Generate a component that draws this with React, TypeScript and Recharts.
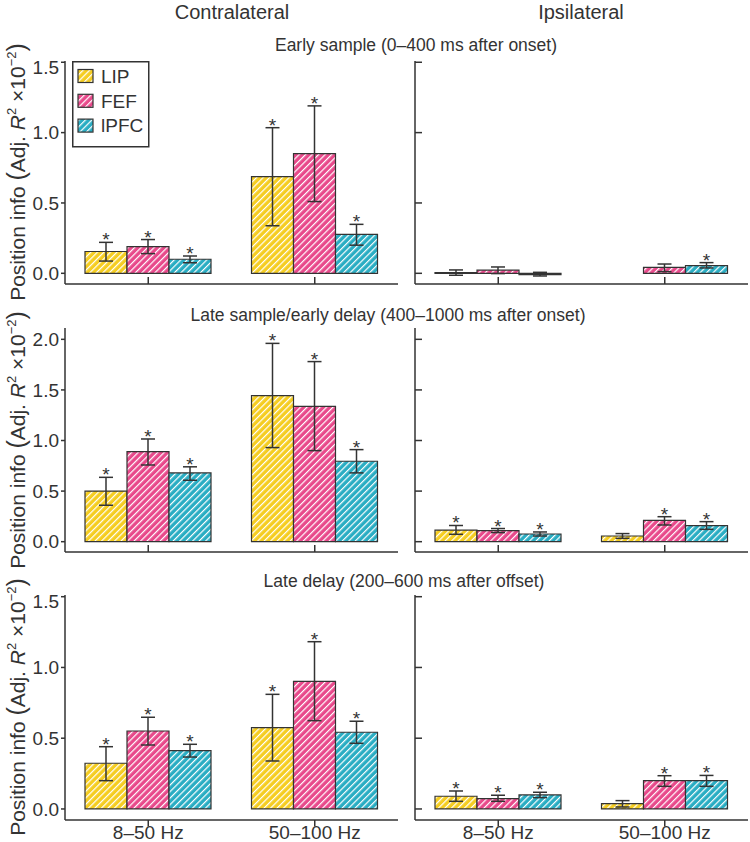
import { BarChart, Bar, XAxis, YAxis, ErrorBar, LabelList, Legend } from "recharts";

const FONT = '"Liberation Sans", Arial, Helvetica, sans-serif';
const INK = "#333";

const categories = ["8–50 Hz", "50–100 Hz"];
const areas = ["LIP", "FEF", "lPFC"];
const areaKeys = ["lip", "fef", "lpfc"];
const areaColors = ["#f5cd21", "#e8498b", "#29adc3"];

// each array: [LIP, FEF, lPFC] x [8–50 Hz, 50–100 Hz]
const earlyContraMean = [[0.155, 0.687], [0.19, 0.85], [0.1, 0.277]];
const earlyContraLow = [[0.087, 0.338], [0.14, 0.51], [0.075, 0.2]];
const earlyContraHigh = [[0.22, 1.035], [0.24, 1.19], [0.123, 0.348]];
const earlyContraStar = [[true, true], [true, true], [true, true]];

const earlyIpsiMean = [[0.005, 0.0], [0.022, 0.042], [-0.01, 0.055]];
const earlyIpsiLow = [[-0.014, -0.02], [-0.002, 0.012], [-0.019, 0.038]];
const earlyIpsiHigh = [[0.024, 0.03], [0.045, 0.066], [0.007, 0.076]];
const earlyIpsiStar = [[false, false], [false, false], [false, true]];

const lateSampleContraMean = [[0.5, 1.443], [0.89, 1.338], [0.68, 0.795]];
const lateSampleContraLow = [[0.36, 0.93], [0.758, 0.9], [0.607, 0.68]];
const lateSampleContraHigh = [[0.636, 1.96], [1.015, 1.78], [0.74, 0.91]];
const lateSampleContraStar = [[true, true], [true, true], [true, true]];

const lateSampleIpsiMean = [[0.115, 0.056], [0.11, 0.21], [0.076, 0.158]];
const lateSampleIpsiLow = [[0.073, 0.033], [0.09, 0.165], [0.056, 0.122]];
const lateSampleIpsiHigh = [[0.16, 0.08], [0.13, 0.247], [0.096, 0.198]];
const lateSampleIpsiStar = [[true, false], [true, true], [true, true]];

const lateDelayContraMean = [[0.323, 0.575], [0.551, 0.902], [0.412, 0.542]];
const lateDelayContraLow = [[0.2, 0.339], [0.452, 0.624], [0.367, 0.464]];
const lateDelayContraHigh = [[0.44, 0.81], [0.648, 1.182], [0.457, 0.62]];
const lateDelayContraStar = [[true, true], [true, true], [true, true]];

const lateDelayIpsiMean = [[0.09, 0.038], [0.073, 0.2], [0.099, 0.2]];
const lateDelayIpsiLow = [[0.054, 0.014], [0.054, 0.16], [0.08, 0.16]];
const lateDelayIpsiHigh = [[0.127, 0.059], [0.097, 0.235], [0.118, 0.237]];
const lateDelayIpsiStar = [[true, false], [true, true], [true, true]];

const ticks15 = [0, 0.5, 1.0, 1.5];
const ticks20 = [0, 0.5, 1.0, 1.5, 2.0];

function buildRows(mean: number[][], low: number[][], high: number[][], star: boolean[][]) {
  return categories.map((name, i) => {
    const row: any = { name };
    areaKeys.forEach((k, a) => {
      const m = mean[a][i];
      row[k] = m;
      row[k + "Err"] = [m - low[a][i], high[a][i] - m];
      row[k + "Hi"] = high[a][i];
      row[k + "Star"] = star[a][i];
    });
    return row;
  });
}

// asterisk sits just above the upper error cap; px per unit comes from the bar itself
function starLabel(rows: any[], key: string) {
  return (props: any) => {
    const vb = props.viewBox ?? props;
    const { x, y, width, height } = vb;
    const r = rows[props.index];
    if (!r || !r[key + "Star"] || !r[key]) return null;
    const v = r[key];
    const pxu = Math.abs(height) / Math.abs(v);
    const yHi = y - (r[key + "Hi"] - v) * pxu;
    return (
      <text x={x + width / 2} y={yHi + 4} textAnchor="middle" fontSize={19} fill={INK} fontFamily={FONT}>
        *
      </text>
    );
  };
}

const noLabel = () => <g />;

function Hatches({ id }: { id: string }) {
  return (
    <defs>
      {areaKeys.map((k, i) => (
        <pattern key={k} id={`h-${k}-${id}`} patternUnits="userSpaceOnUse" width={4.6} height={4.6} patternTransform="rotate(45)">
          <rect width={4.6} height={4.6} fill={areaColors[i]} />
          <line x1={0.6} y1={0} x2={0.6} y2={4.6} stroke="#fff" strokeWidth={1.2} />
        </pattern>
      ))}
    </defs>
  );
}

function LegendBox() {
  return (
    <svg width={78} height={87} style={{ display: "block" }}>
      <Hatches id="legend" />
      <rect x={0.75} y={0.75} width={76} height={85} fill="none" stroke={INK} strokeWidth={1.5} />
      {areas.map((name, i) => {
        const cy = 15 + i * 24.8;
        return (
          <g key={name}>
            <rect x={6} y={cy - 6.5} width={15} height={13} fill={`url(#h-${areaKeys[i]}-legend)`} stroke={INK} strokeWidth={1.2} />
            <text x={29} y={cy + 6.8} fontSize={19} fill={INK} fontFamily={FONT}>
              {name}
            </text>
          </g>
        );
      })}
    </svg>
  );
}

type PanelProps = {
  id: string;
  rows: any[];
  domain: [number, number];
  ticks: number[];
  side: "left" | "right";
  plotTop: number;
  plotH: number;
  showX: boolean;
  legend?: boolean;
};

function Panel({ id, rows, domain, ticks, side, plotTop, plotH, showX, legend }: PanelProps) {
  const xH = showX ? 22 : 4;
  const axisLine = { stroke: INK, strokeWidth: 1.5 };
  return (
    <div style={{ position: "absolute", left: side === "left" ? 0 : 350, top: plotTop - 5 }}>
      <BarChart
        width={400}
        height={5 + plotH + xH}
        data={rows}
        margin={{ top: 5, right: 2, bottom: 0, left: 0 }}
        barGap={0}
        barCategoryGap={20}
      >
        <Hatches id={id} />
        <XAxis
          dataKey="name"
          height={xH}
          axisLine={axisLine}
          tickLine={axisLine}
          tickSize={showX ? 6.5 : -7}
          tickMargin={-1}
          tick={showX ? { fontSize: 19, fill: INK, fontFamily: FONT } : noLabel}
        />
        <YAxis
          type="number"
          width={65}
          domain={domain}
          ticks={ticks}
          allowDataOverflow
          axisLine={axisLine}
          tickLine={axisLine}
          tickSize={side === "left" ? 4 : -7}
          tickMargin={2}
          tickFormatter={(v: number) => v.toFixed(1)}
          tick={side === "left" ? { fontSize: 19, fill: INK, fontFamily: FONT } : noLabel}
        />
        {legend && (
          <Legend
            layout="vertical"
            align="center"
            verticalAlign="middle"
            wrapperStyle={{ left: 72, top: 5, width: 78, height: 87 }}
            content={() => <LegendBox />}
          />
        )}
        {areaKeys.map((k, i) => (
          <Bar
            key={k}
            dataKey={k}
            name={areas[i]}
            fill={`url(#h-${k}-${id})`}
            stroke={INK}
            strokeWidth={1.2}
            isAnimationActive={false}
          >
            <ErrorBar dataKey={k + "Err"} width={7} stroke={INK} strokeWidth={1.5} />
            <LabelList dataKey={k + "Hi"} content={starLabel(rows, k)} />
          </Bar>
        ))}
      </BarChart>
    </div>
  );
}

function YLabel({ cy }: { cy: number }) {
  return (
    <text transform={`rotate(-90, 25, ${cy})`} x={25} y={cy} textAnchor="middle" fontSize={21} fill={INK} fontFamily={FONT}>
      Position info{" "}
      <tspan fontSize={25}>(</tspan>
      <tspan>Adj. </tspan>
      <tspan fontStyle="italic">R</tspan>
      <tspan fontSize={13} dy={-9}>2</tspan>
      <tspan dy={9}> ×10</tspan>
      <tspan fontSize={13} dy={-9}>−2</tspan>
      <tspan fontSize={25} dy={9}>)</tspan>
    </text>
  );
}

export default function App() {
  const early = { domain: [-0.076, 1.509] as [number, number], top: 61, h: 223 };
  const lateS = { domain: [-0.102, 2.112] as [number, number], top: 328, h: 224 };
  const lateD = { domain: [-0.078, 1.512] as [number, number], top: 595, h: 225 };

  return (
    <div style={{ position: "relative", width: 750, height: 842, background: "#fff", overflow: "hidden" }}>
      <style>{"body{margin:0}"}</style>
      <Panel id="ec" rows={buildRows(earlyContraMean, earlyContraLow, earlyContraHigh, earlyContraStar)} domain={early.domain} ticks={ticks15} side="left" plotTop={early.top} plotH={early.h} showX={false} legend />
      <Panel id="ei" rows={buildRows(earlyIpsiMean, earlyIpsiLow, earlyIpsiHigh, earlyIpsiStar)} domain={early.domain} ticks={ticks15} side="right" plotTop={early.top} plotH={early.h} showX={false} />
      <Panel id="sc" rows={buildRows(lateSampleContraMean, lateSampleContraLow, lateSampleContraHigh, lateSampleContraStar)} domain={lateS.domain} ticks={ticks20} side="left" plotTop={lateS.top} plotH={lateS.h} showX={false} />
      <Panel id="si" rows={buildRows(lateSampleIpsiMean, lateSampleIpsiLow, lateSampleIpsiHigh, lateSampleIpsiStar)} domain={lateS.domain} ticks={ticks20} side="right" plotTop={lateS.top} plotH={lateS.h} showX={false} />
      <Panel id="dc" rows={buildRows(lateDelayContraMean, lateDelayContraLow, lateDelayContraHigh, lateDelayContraStar)} domain={lateD.domain} ticks={ticks15} side="left" plotTop={lateD.top} plotH={lateD.h} showX />
      <Panel id="di" rows={buildRows(lateDelayIpsiMean, lateDelayIpsiLow, lateDelayIpsiHigh, lateDelayIpsiStar)} domain={lateD.domain} ticks={ticks15} side="right" plotTop={lateD.top} plotH={lateD.h} showX />
      <svg width={750} height={842} style={{ position: "absolute", left: 0, top: 0, pointerEvents: "none" }}>
        <g fontFamily={FONT} fill={INK}>
          <text x={232} y={18.5} textAnchor="middle" fontSize={20}>Contralateral</text>
          <text x={581} y={18.5} textAnchor="middle" fontSize={20}>Ipsilateral</text>
          <text x={416} y={50.5} textAnchor="middle" fontSize={17.5}>Early sample (0–400 ms after onset)</text>
          <text x={388} y={320.7} textAnchor="middle" fontSize={17.5}>Late sample/early delay (400–1000 ms after onset)</text>
          <text x={404} y={586.7} textAnchor="middle" fontSize={17.5}>Late delay (200–600 ms after offset)</text>
        </g>
        <YLabel cy={172} />
        <YLabel cy={440} />
        <YLabel cy={707} />
      </svg>
    </div>
  );
}
